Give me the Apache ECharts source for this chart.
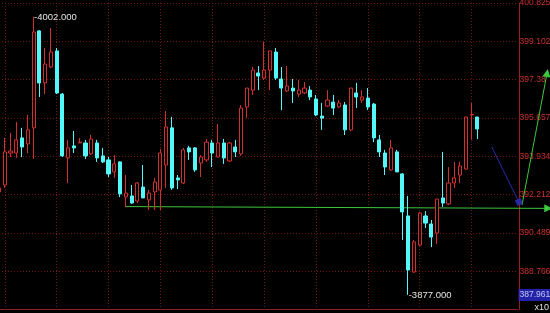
<!DOCTYPE html>
<html><head><meta charset="utf-8">
<script src="https://cdn.jsdelivr.net/npm/echarts@6/dist/echarts.min.js"></script>
<style>html,body{margin:0;padding:0;background:#000;}#c{width:550px;height:313px;}</style>
</head><body><div id="c"></div>
<script>
// ---- data (axis units are price / 10) ----
const opens  = [392.33,392.64,394.08,394.08,394.76,394.49,395.21,399.57,397.23,397.95,398.67,396.73,393.86,394.40,394.53,394.53,394.04,394.53,393.95,393.77,393.23,393.68,392.10,392.15,391.92,392.55,391.97,392.33,392.42,393.54,395.21,392.96,392.73,394.31,394.31,393.63,393.77,394.53,393.90,394.53,393.72,394.35,394.04,396.15,396.91,397.68,397.45,397.81,398.62,397.41,396.87,397.00,396.73,396.78,396.91,396.51,395.74,396.19,396.37,396.15,396.24,395.12,396.78,396.46,396.55,396.28,394.67,394.08,393.32,394.13,393.14,391.25,388.73,389.94,391.25,390.89,390.48,392.06,391.79,392.73,393.09,393.36,395.79,395.70];
const closes = [392.51,394.13,394.17,394.67,394.35,395.12,399.52,397.23,398.08,398.62,396.78,393.95,394.31,394.31,394.57,393.95,394.71,393.86,393.68,393.14,393.59,392.24,392.28,391.83,392.73,392.06,392.28,392.78,394.08,395.25,392.51,392.87,394.22,394.13,393.32,393.90,394.57,394.08,394.53,393.86,394.53,394.13,396.10,397.00,397.81,397.54,397.81,398.67,397.45,397.00,397.09,396.87,396.91,397.00,396.60,395.79,395.65,396.46,396.10,396.33,395.12,397.00,396.60,396.60,396.15,394.76,394.13,393.45,394.31,393.23,391.43,388.82,390.08,391.38,390.93,390.30,392.01,391.83,392.73,392.96,393.50,395.70,395.81,395.16];
const lows   = [392.24,392.51,393.90,393.86,393.90,394.08,393.81,396.60,396.73,397.90,396.73,393.90,392.73,394.08,394.53,393.81,393.99,393.68,393.63,393.00,392.96,392.10,391.65,391.79,391.83,392.06,391.52,391.52,391.52,392.51,392.42,392.46,392.69,393.77,393.23,393.00,393.68,393.45,393.90,393.59,393.68,393.90,393.95,395.65,396.69,396.91,397.36,396.91,397.36,396.01,396.82,396.33,396.60,396.73,396.46,395.74,395.12,396.15,395.79,396.10,394.89,395.07,396.10,396.33,396.01,394.57,393.90,393.09,393.27,393.23,390.17,387.70,388.69,389.90,390.71,389.85,389.99,391.65,391.74,392.51,392.73,393.32,394.67,394.71];
const highs  = [392.60,394.76,394.98,395.48,395.21,395.79,400.20,399.60,398.80,399.70,398.80,396.78,394.67,395.07,394.76,394.67,394.89,394.67,394.31,393.90,393.99,393.70,393.09,392.64,392.78,393.54,392.42,392.96,394.26,395.97,395.70,393.09,394.31,394.40,394.35,393.99,394.71,394.67,395.39,394.71,394.57,394.67,396.24,397.00,397.95,397.99,399.07,398.67,398.80,397.95,397.99,397.41,397.36,397.27,397.09,396.69,396.33,396.91,396.69,396.46,396.37,397.00,397.23,396.91,397.00,396.33,394.89,394.22,394.67,394.22,393.18,392.15,390.17,391.43,391.47,391.07,392.01,394.13,393.45,393.68,393.68,395.70,396.33,395.70];
const yTickLabels = ['400.825','399.102','397.38','395.657','393.934','392.212','390.489','388.766'];
const yMin = 387.043, yMax = 400.825, yStep = 1.72275;
const cursorValue = 387.961;
const scaleNote = 'x10';
const valueScale = 10;
// drawn trend lines: [slot index, axis value]
const blueTrend = [[85.5, 394.35], [90.2, 391.88]];
const greenFlat = [[22, 391.67], [95.3, 391.59]];
const greenRise = [[90.75, 391.74], [95.1, 397.68]];
const slotCount = 91;
const categories = Array.from({length: slotCount}, (_, i) => String(i + 1));

const ohlc = opens.map((o, i) => [o, closes[i], lows[i], highs[i]]);
const FONT = '"Liberation Sans Narrow","Liberation Sans",Arial,sans-serif';
const slotW = 5.7634;
const GRID_C = '#6e1616';

const chart = echarts.init(document.getElementById('c'), null, {renderer: 'canvas'});
chart.setOption({
  backgroundColor: '#000',
  animation: false,
  grid: [
    {left: -1, width: (slotCount - 1) * slotW, top: 3, bottom: 3.5, containLabel: false, outerBoundsMode: 'none'},
    {left: -1, width: 96 * slotW, top: 3, bottom: 3.5, containLabel: false, outerBoundsMode: 'none'}
  ],
  xAxis: [
    {type: 'category', gridIndex: 0, data: categories, boundaryGap: false,
     axisLine: {show: true, lineStyle: {color: '#8a2020', width: 1}},
     axisTick: {show: false}, axisLabel: {show: false},
     splitLine: {show: true, interval: (i) => i % 9 === 1, lineStyle: {color: GRID_C, type: [1, 2]}}},
    {type: 'value', gridIndex: 1, min: 0, max: 96, show: false}
  ],
  yAxis: [
    {type: 'value', gridIndex: 0, position: 'right', min: yMin, max: yMax, interval: yStep, offset: 1.4,
     axisLine: {show: true, lineStyle: {color: '#9a2020'}}, axisTick: {show: false},
     axisLabel: {margin: 0.5, color: '#cc3030', fontSize: 8.5, fontFamily: FONT,
       formatter: (v) => { const k = Math.round((yMax - v) / yStep); return (k >= 0 && k < yTickLabels.length && Math.abs(yMax - k * yStep - v) < 0.01) ? yTickLabels[k] : ''; }},
     splitLine: {show: true, lineStyle: {color: GRID_C, type: [1, 2]}}},
    {type: 'value', gridIndex: 1, min: yMin, max: yMax, show: false}
  ],
  series: [
    {type: 'candlestick', xAxisIndex: 0, yAxisIndex: 0, data: ohlc, barWidth: 3.6, clip: false,
     itemStyle: {color: '#000', color0: '#54f8f8', borderColor: '#d03030', borderColor0: '#54f8f8', borderWidth: 1},
     markPoint: {symbol: 'circle', symbolSize: 1, itemStyle: {color: 'rgba(0,0,0,0)'},
       label: {show: true, position: 'right', distance: 0, color: '#e4e4e4', fontSize: 9.5, fontFamily: FONT,
         formatter: (p) => '-' + (p.value * valueScale).toFixed(3)},
       data: [{type: 'max', valueDim: 'highest'}, {type: 'min', valueDim: 'lowest'}]}},
    {type: 'lines', coordinateSystem: 'cartesian2d', xAxisIndex: 1, yAxisIndex: 1, clip: false,
     symbol: ['none', 'triangle'], symbolSize: 8,
     lineStyle: {color: '#3cc83c', width: 1, opacity: 1}, itemStyle: {color: '#3ce03c'},
     data: [{coords: greenFlat}, {coords: greenRise}]},
    {type: 'lines', coordinateSystem: 'cartesian2d', xAxisIndex: 1, yAxisIndex: 1, clip: false,
     symbol: ['none', 'rect'], symbolSize: 6,
     lineStyle: {color: '#2a2aa8', width: 1, opacity: 1}, itemStyle: {color: '#1e3cff'},
     data: [{coords: blueTrend}]},
    {type: 'scatter', xAxisIndex: 1, yAxisIndex: 1, silent: true, symbolSize: 1,
     itemStyle: {color: 'rgba(0,0,0,0)'},
     label: {show: true, position: 'right', distance: 0, offset: [0, 6], color: '#e8e8ff', backgroundColor: '#2a2ad2',
       padding: [2, 1, 1, 1], fontSize: 8.5, fontFamily: FONT, formatter: () => cursorValue.toFixed(3)},
     data: [[90.05, cursorValue]]}
  ],
  graphic: [{type: 'text', right: 1, bottom: 1, style: {text: scaleNote, fill: '#e0e0e0', font: '9px ' + FONT}}]
});
</script></body></html>
